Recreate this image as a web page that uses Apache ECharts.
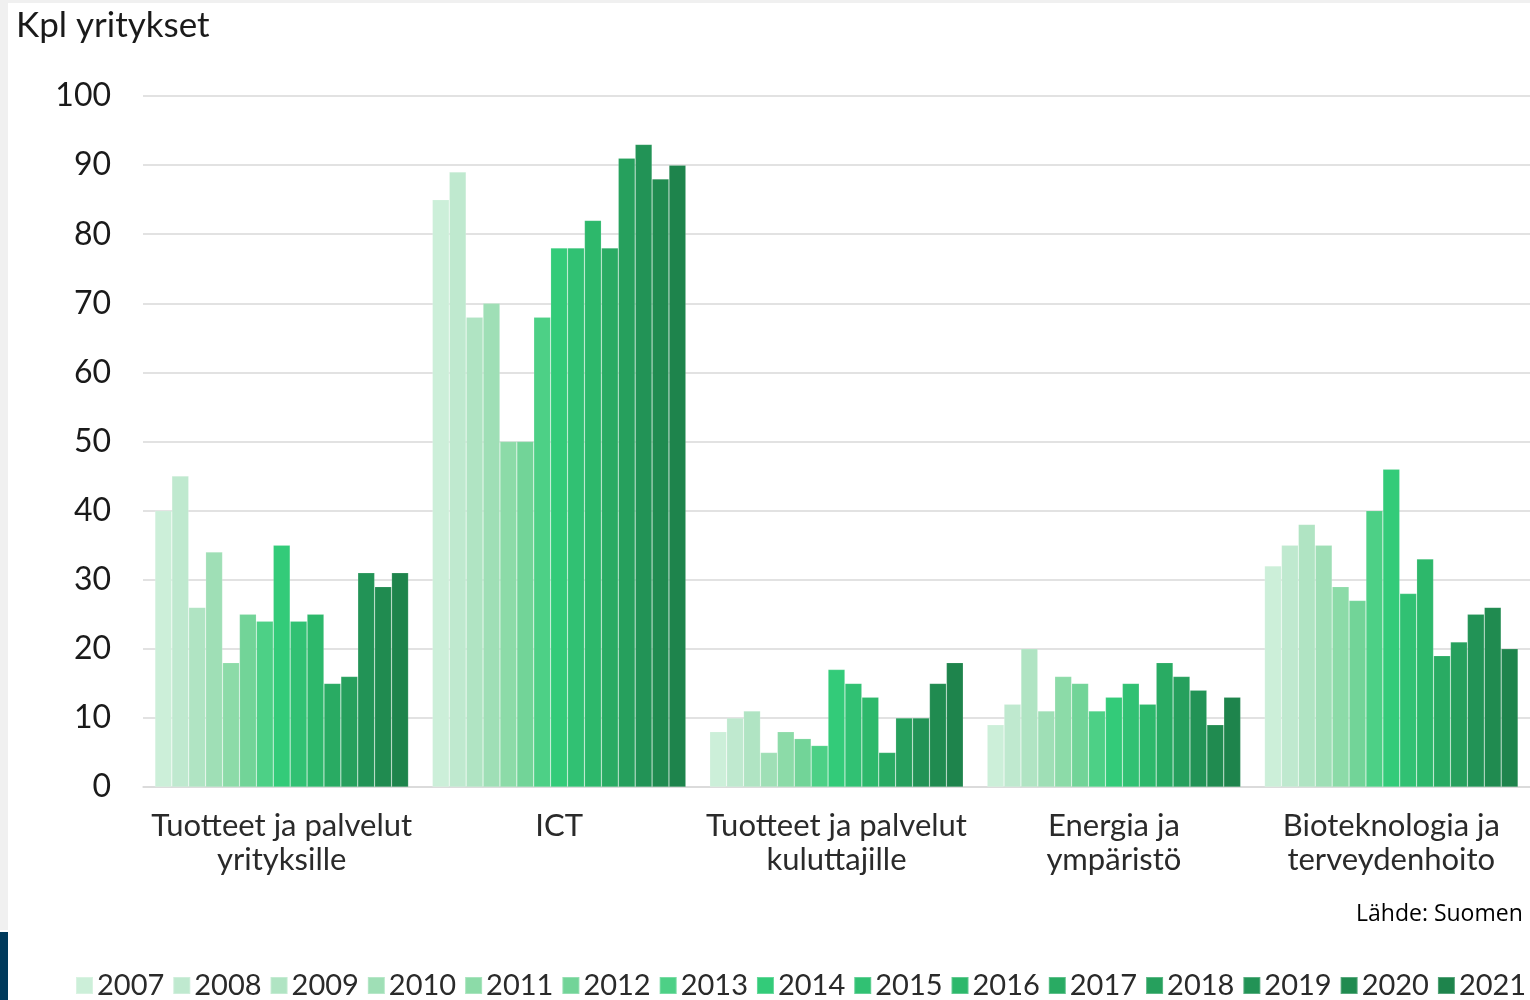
<!DOCTYPE html>
<html>
<head>
<meta charset="utf-8">
<script src="https://cdn.jsdelivr.net/npm/echarts@6/dist/echarts.min.js"></script>
<style>
html,body{margin:0;padding:0;background:#fff;}
#chart{width:1530px;height:1000px;}
</style>
</head>
<body>
<div id="chart"></div>
<script>
const categories = ['Tuotteet ja palvelut\nyrityksille', 'ICT', 'Tuotteet ja palvelut\nkuluttajille', 'Energia ja\nympäristö', 'Bioteknologia ja\nterveydenhoito'];
const years = ['2007','2008','2009','2010','2011','2012','2013','2014','2015','2016','2017','2018','2019','2020','2021'];
// values per category, one entry per year 2007..2021
const tuotteetYrityksille = [40, 45, 26, 34, 18, 25, 24, 35, 24, 25, 15, 16, 31, 29, 31];
const ict = [85, 89, 68, 70, 50, 50, 68, 78, 78, 82, 78, 91, 93, 88, 90];
const tuotteetKuluttajille = [8, 10, 11, 5, 8, 7, 6, 17, 15, 13, 5, 10, 10, 15, 18];
const energia = [9, 12, 20, 11, 16, 15, 11, 13, 15, 12, 18, 16, 14, 9, 13];
const bioteknologia = [32, 35, 38, 35, 29, 27, 40, 46, 28, 33, 19, 21, 25, 26, 20];
const colors = ['#ccefd9','#bfe9cf','#b0e4c3','#9fdfb6','#8cdba8','#72d498','#4dd086','#33cb79','#31c173','#2db86b','#29ab63','#26a05d','#229356','#208b50','#1e844c'];
const yTicks = {min: 0, max: 100, interval: 10};

const groups = [tuotteetYrityksille, ict, tuotteetKuluttajille, energia, bioteknologia];
const FONT = 'Lato';
const series = years.map((y, i) => ({
  name: y,
  type: 'bar',
  data: groups.map(g => g[i]),
  barGap: '0%',
  barCategoryGap: '8.6%',
  itemStyle: {color: colors[i], borderColor: 'rgba(255,255,255,0.25)', borderWidth: 0.6},
  emphasis: {disabled: true}
}));

const chart = echarts.init(document.getElementById('chart'), null, {renderer: 'canvas'});
chart.setOption({
  animation: false,
  backgroundColor: '#ffffff',
  textStyle: {fontFamily: FONT},
  grid: {left: 143, right: -9, top: 96, bottom: 213, containLabel: false},
  xAxis: {
    type: 'category',
    data: categories,
    axisLine: {show: true, lineStyle: {color: '#d9d9d9', width: 1.5}},
    axisTick: {show: false},
    axisLabel: {color: '#2a2a2a', fontSize: 31, fontFamily: FONT, lineHeight: 34, margin: 22, interval: 0}
  },
  yAxis: {
    type: 'value',
    min: yTicks.min, max: yTicks.max, interval: yTicks.interval,
    axisLine: {show: false},
    axisTick: {show: false},
    splitLine: {lineStyle: {color: '#d9d9d9', width: 1.5}},
    axisLabel: {color: '#1a1a1a', fontSize: 32, fontFamily: FONT, margin: 32, align: 'right'}
  },
  legend: {
    data: years,
    top: 971,
    left: 75,
    width: 1455,
    padding: 0,
    itemWidth: 17,
    itemHeight: 17,
    itemGap: 8,
    icon: 'rect',
    textStyle: {color: '#2a2a2a', fontSize: 29, fontFamily: FONT, padding: [0, 0, 0, -1]}
  },
  graphic: [
    {type: 'rect', left: 0, top: 0, shape: {width: 8, height: 930}, style: {fill: '#f0f0f0'}},
    {type: 'rect', left: 0, top: 0, shape: {width: 1530, height: 3}, style: {fill: '#f0f0f0'}},
    {type: 'rect', left: 0, top: 932, shape: {width: 8, height: 68}, style: {fill: '#003a5c'}},
    {type: 'text', left: 16, top: 8, style: {text: 'Kpl yritykset', fontSize: 35, fontFamily: FONT, fill: '#1a1a1a'}},
    {type: 'text', left: 1356, top: 903, style: {text: 'Lähde: Suomen', fontSize: 23, fontFamily: 'Open Sans', fill: '#000'}}
  ],
  series: series
});
</script>
</body>
</html>
